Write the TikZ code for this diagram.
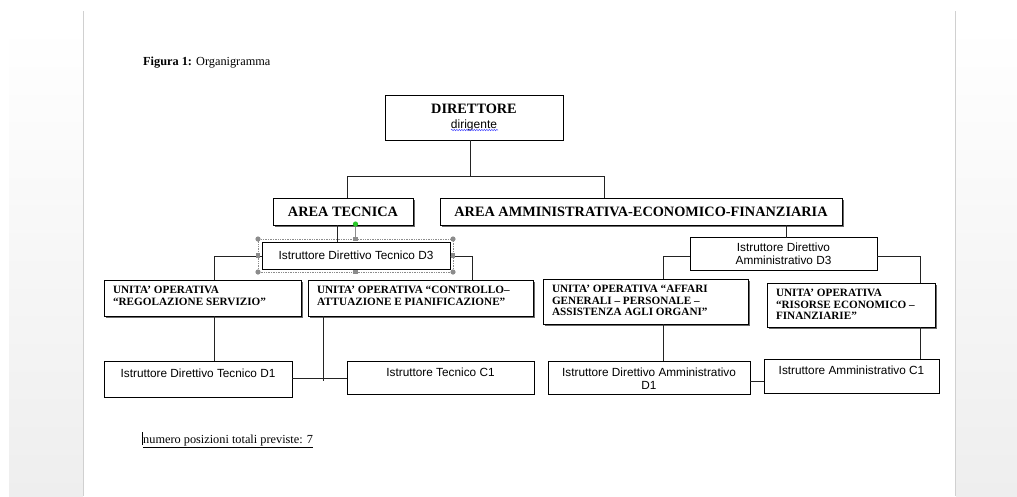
\documentclass[tikz,border=0pt]{standalone}
\usepackage{fontspec}
\setmainfont{Liberation Serif}
\newfontfamily\sansf{Liberation Sans}
\usetikzlibrary{shadows,calc,decorations.pathmorphing}
\definecolor{shadowc}{RGB}{105,105,105}
\definecolor{pagegray}{RGB}{238,238,238}
\definecolor{edgegray}{RGB}{208,208,208}
\definecolor{handlec}{RGB}{140,140,140}
\definecolor{linec}{RGB}{35,35,35}
\definecolor{greenh}{RGB}{40,200,40}
\newcommand{\tbx}[4]{\parbox[c][#2][t]{#1}{\vspace*{#3}#4}}
\tikzset{
  box/.style={draw=black, line width=1pt, fill=white, inner sep=0pt, outer sep=0pt},
  shbox/.style={box, drop shadow={shadow xshift=2pt, shadow yshift=-2pt, fill=shadowc, opacity=1}},
  conn/.style={draw=linec, line width=0.8pt},
  bigf/.style={font=\fontsize{14.3}{16}\selectfont\bfseries},
  unitf/.style={font=\fontsize{11.2}{11.3}\selectfont\bfseries},
  istf/.style={font=\sansf\fontsize{11.8}{13}\selectfont},
  plainf/.style={font=\fontsize{12.3}{14}\selectfont},
}
\begin{document}
\begin{tikzpicture}[x=1pt,y=-1pt]
\useasboundingbox (0,0) rectangle (1017,496);
% background page
\fill[white] (0,0) rectangle (1017,496);
\shade[top color=white, bottom color=pagegray] (9,25) rectangle (83,496);
\shade[top color=white, bottom color=pagegray] (956,25) rectangle (1017,496);
\draw[edgegray, line width=1pt] (83.5,11) -- (83.5,496);
\draw[edgegray, line width=1pt] (955.5,11) -- (955.5,496);

% caption
\node[plainf, anchor=base west, inner sep=0pt] (fig) at (143,65) {\textbf{Figura 1:} Organigramma};

% top box
\node[box, align=center, font=\fontsize{12}{15}\selectfont, minimum width=178pt, minimum height=45pt] (dir) at (474,117.5)
  {{\fontsize{14.3}{15}\selectfont\bfseries DIRETTORE}\\{\sansf dirigente}};
\draw[blue!70, line width=0.5pt, decorate, decoration={snake, segment length=2.5pt, amplitude=0.7pt}]
  ($(dir.center)+(-23,12.5)$) -- ++(47,0);

% areas
\node[shbox, bigf, minimum width=140pt, minimum height=27pt] (at) at (343,211.5) {AREA TECNICA};
\node[shbox, bigf, minimum width=402pt, minimum height=27pt] (aa) at (641,211.5) {AREA AMMINISTRATIVA-ECONOMICO-FINANZIARIA};

\coordinate (hTop) at (470,176);
\coordinate (hL) at (347,176);
\coordinate (hR) at (604,176);
\draw[conn] (dir.south -| hTop) -- (hTop);
\draw[conn] (hL |- at.north) -- (hL) -- (hR) -- (hR |- aa.north);

% technical branch
\node[box, istf, minimum width=188pt, minimum height=27pt] (d3t) at (356,255.5) {Istruttore Direttivo Tecnico D3};
\node[shbox, unitf, inner xsep=9pt] (reg) at (202.5,298)
  {\tbx{179pt}{36pt}{6.5pt}{\raggedright UNITA’ OPERATIVA\\“REGOLAZIONE SERVIZIO”}};
\node[shbox, unitf, inner xsep=9pt] (ctl) at (420.5,298)
  {\tbx{207pt}{36pt}{6.5pt}{\raggedright UNITA’ OPERATIVA “CONTROLLO–\\ATTUAZIONE E PIANIFICAZIONE”}};
\node[box, istf, inner xsep=9pt] (d1t) at (198,379)
  {\tbx{170pt}{36pt}{7.5pt}{\centering Istruttore Direttivo Tecnico D1}};
\node[box, istf, inner xsep=9pt] (c1t) at (440.5,377.5)
  {\tbx{169pt}{33pt}{7pt}{\centering Istruttore Tecnico C1}};

\coordinate (cT) at (337,230);
\coordinate (tl) at (214,256);
\coordinate (tr) at (472,256);
\coordinate (cv) at (323,381);
\coordinate (hy) at (0,378);
\draw[conn] (cT |- at.south) -- (cT |- d3t.north);
\draw[conn] (d3t.west |- tl) -- (tl) -- (tl |- reg.north);
\draw[conn] (d3t.east |- tr) -- (tr) -- (tr |- ctl.north);
\draw[conn] (tl |- reg.south) -- (tl |- d1t.north);
\draw[conn] (cv |- ctl.south) -- (cv);
\draw[conn] (d1t.east |- hy) -- (c1t.west |- hy);

% selection handles on d3t
\coordinate (hNW) at ($(d3t.north west)+(-4,-3)$);
\coordinate (hSE) at ($(d3t.south east)+(3,3)$);
\draw[handlec, densely dotted, line width=0.7pt] (hNW) rectangle (hSE);
\foreach \p in {(hNW),(hSE),(hNW -| hSE),(hNW |- hSE)}
  \fill[handlec] \p circle[radius=2.6pt];
\coordinate (mT) at ($(hNW)!0.5!(hNW -| hSE)$);
\coordinate (mB) at ($(hNW |- hSE)!0.5!(hSE)$);
\coordinate (mL) at ($(hNW)!0.5!(hNW |- hSE)$);
\coordinate (mR) at ($(hNW -| hSE)!0.5!(hSE)$);
\foreach \p in {(mT),(mB),(mL),(mR)}
  \fill[handlec] \p ++(-2.3,-2.3) rectangle ++(4.6,4.6);
\coordinate (gH) at ($(mT)+(0,-15)$);
\draw[handlec, line width=0.8pt] (gH) -- (mT);
\fill[greenh] (gH) circle[radius=2.6pt];

% administrative branch
\node[box, istf, align=center, minimum width=187pt, minimum height=33pt] (d3a) at (783.5,254)
  {Istruttore Direttivo\\Amministrativo D3};
\node[shbox, unitf, inner xsep=9pt] (aff) at (645.5,301.5)
  {\tbx{187pt}{45pt}{6.5pt}{\raggedright UNITA’ OPERATIVA “AFFARI\\GENERALI – PERSONALE –\\ASSISTENZA AGLI ORGANI”}};
\node[shbox, unitf, inner xsep=9pt] (ris) at (851,305)
  {\tbx{150pt}{44pt}{6.5pt}{\raggedright UNITA’ OPERATIVA\\“RISORSE ECONOMICO –\\FINANZIARIE”}};
\node[box, istf, inner xsep=8pt] (d1a) at (649,377.5)
  {\tbx{186pt}{33pt}{7pt}{\centering Istruttore Direttivo Amministrativo\\D1}};
\node[box, istf, inner xsep=8pt] (c1a) at (851.5,376)
  {\tbx{159pt}{34pt}{6.5pt}{\centering Istruttore Amministrativo C1}};

\coordinate (ca) at (786,230);
\coordinate (al) at (663,256);
\coordinate (ar) at (920,256);
\coordinate (hy2) at (0,381);
\draw[conn] (ca |- aa.south) -- (ca |- d3a.north);
\draw[conn] (d3a.west |- al) -- (al) -- (al |- aff.north);
\draw[conn] (d3a.east |- ar) -- (ar) -- (ar |- ris.north);
\draw[conn] (al |- aff.south) -- (al |- d1a.north);
\draw[conn] (ar |- ris.south) -- (ar |- c1a.north);
\draw[conn] (d1a.east |- hy2) -- (c1a.west |- hy2);

% footer
\node[plainf, anchor=base west, inner sep=0pt] (tot) at (143,443) {\underline{numero posizioni totali previste: 7}};
\draw[black, line width=0.7pt] ([xshift=-0.8pt]tot.base west) ++(0,2) -- ++(0,-13);
\end{tikzpicture}
\end{document}
